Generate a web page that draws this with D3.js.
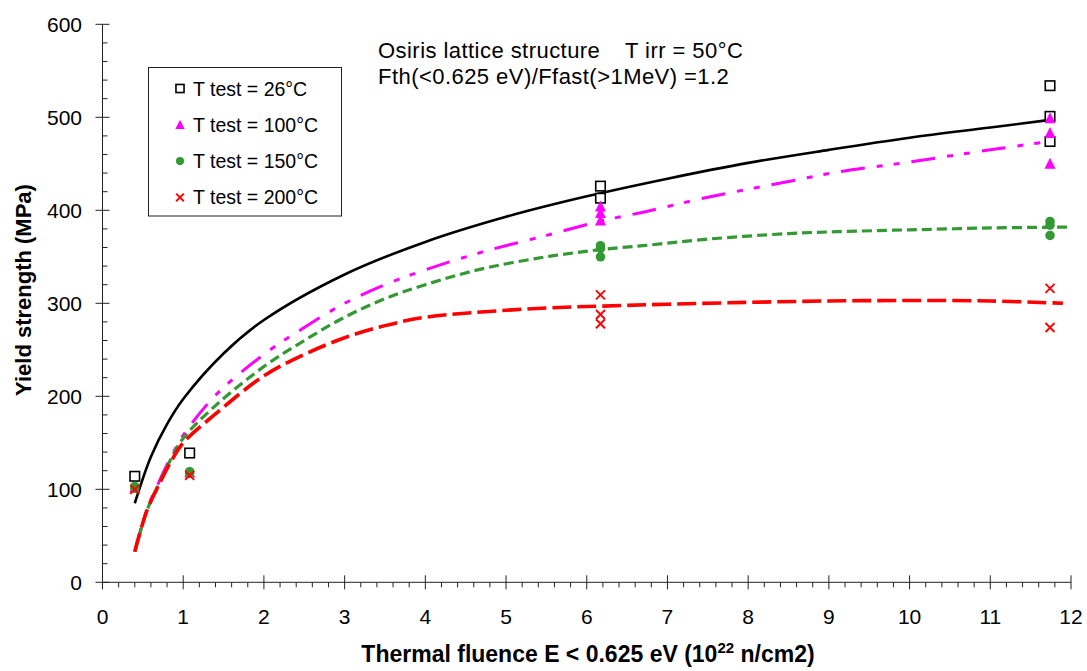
<!DOCTYPE html>
<html>
<head>
<meta charset="utf-8">
<script src="https://cdn.jsdelivr.net/npm/d3@7/dist/d3.min.js"></script>
<style>
  html, body { margin: 0; padding: 0; background: #fff; }
  svg { display: block; font-family: "Liberation Sans", Arial, sans-serif; }
</style>
</head>
<body>
<div class="chart"></div>
<script>
// Yield strength vs thermal fluence, Osiris lattice, 4 test temperatures.

// ---- measured points [fluence, MPa] ----
var pts26  = [[0.4, 114], [1.08, 139], [6.17, 426], [6.17, 413], [11.74, 534], [11.74, 501], [11.74, 474]]
var pts100 = [[0.4, 102], [1.08, 118], [6.17, 404], [6.17, 397], [6.17, 389], [11.74, 499], [11.74, 483], [11.74, 450]]
var pts150 = [[0.4, 103], [0.4, 101], [1.08, 119], [1.08, 117], [6.17, 362], [6.17, 359], [6.17, 350], [11.74, 388], [11.74, 384], [11.74, 373]]
var pts200 = [[0.4, 100], [1.08, 115], [6.17, 309], [6.17, 288], [6.17, 278], [11.74, 316], [11.74, 274]]

// ---- trend lines (x, y) ----
var fitX26  = [0.4, 0.6, 0.8, 1, 1.5, 2, 3, 4, 5, 6, 7, 8, 9, 10, 11, 11.72]
var fitY26  = [85, 135, 170, 197, 246, 282, 331, 366, 393, 415, 434, 451, 465, 478, 489, 497]
var fitX100 = [0.4, 0.55, 0.7, 0.85, 1, 1.4, 2, 2.5, 3, 3.5, 4, 4.7, 5.5, 6.2, 6.7, 7.5, 8.5, 9.1, 10, 11, 11.72]
var fitY100 = [33, 78, 108, 135, 158, 201, 245, 274, 300, 320, 336, 355, 373, 389, 398, 414, 431, 441, 452, 465, 474]
var fitX150 = [0.4, 0.55, 0.7, 0.85, 1, 1.4, 2, 2.5, 3, 3.5, 4, 4.7, 5.5, 6.2, 6.7, 7.5, 8.5, 9.1, 10, 11, 11.95]
var fitY150 = [33, 77, 106, 133, 155, 190, 232, 260, 285, 305, 320, 337, 350, 358, 362, 369, 375, 377, 379, 381, 382]
var fitX200 = [0.4, 0.55, 0.7, 0.85, 1, 1.4, 2, 2.5, 3, 3.5, 4, 4.6, 5.5, 6.2, 7, 8, 9, 10, 11, 11.9]
var fitY200 = [33, 77, 105, 130, 150, 181, 222, 245, 263, 276, 285, 290, 295, 297, 299, 301, 302.5, 303, 302.5, 300]

var legendLabels = ['T test = 26°C', 'T test = 100°C', 'T test = 150°C', 'T test = 200°C']
var xTicks = d3.range(0, 13)
var yTicks = d3.range(0, 700, 100)

var W = 1087, H = 671
var svg = d3.select('.chart').append('svg').attr('width', W).attr('height', H)

var x = d3.scaleLinear().domain([0, 12]).range([102.5, 1071])
var y = d3.scaleLinear().domain([0, 600]).range([582.3, 24.3])

// series styling: Excel-ish colours + dash patterns
var series = [
  {pts: pts26,  fx: fitX26,  fy: fitY26,  color: '#000000', width: 2.6, dash: null,              shape: 'square',   sz: 9.5},
  {pts: pts100, fx: fitX100, fy: fitY100, color: '#ff00ff', width: 3,   dash: '24,12,6,11,6,12', shape: 'triangle', sz: 11},
  {pts: pts150, fx: fitX150, fy: fitY150, color: '#339933', width: 3.2, dash: '10,5',            shape: 'circle',   sz: 9.5},
  {pts: pts200, fx: fitX200, fy: fitY200, color: '#ff0000', width: 3.6, dash: '19,6',            shape: 'cross',    sz: 9}
]

// ---- axes ----
var ax = svg.append('g').attr('stroke', '#222').attr('stroke-width', 1)
ax.append('line').attr('x1', x(0)).attr('x2', x(0)).attr('y1', y(600)).attr('y2', y(0))
ax.append('line').attr('x1', x(0)).attr('x2', x(12)).attr('y1', y(0)).attr('y2', y(0))

// y: major ticks cross the axis, minor ticks every 20 inside
ax.selectAll('.ymaj').data(yTicks).enter().append('line')
  .attr('x1', x(0) - 7).attr('x2', x(0) + 7).attr('y1', y).attr('y2', y)
ax.selectAll('.ymin').data(d3.range(20, 600, 20).filter(function(d){ return d % 100 })).enter().append('line')
  .attr('x1', x(0)).attr('x2', x(0) + 5).attr('y1', y).attr('y2', y)
// x: major ticks cross, minor every 0.2 below
ax.selectAll('.xmaj').data(xTicks).enter().append('line')
  .attr('x1', x).attr('x2', x).attr('y1', y(0) - 7).attr('y2', y(0) + 7)
ax.selectAll('.xmin').data(d3.range(0.2, 12, 0.2).filter(function(d){ return Math.abs(d - Math.round(d)) > 0.05 })).enter().append('line')
  .attr('x1', x).attr('x2', x).attr('y1', y(0)).attr('y2', y(0) + 5)

svg.selectAll('.ylab').data(yTicks).enter().append('text')
  .text(function(d){ return d })
  .attr('x', 82).attr('y', function(d){ return y(d) + 7.5 })
  .attr('text-anchor', 'end').attr('font-size', 21).attr('fill', '#000')
svg.selectAll('.xlab').data(xTicks).enter().append('text')
  .text(function(d){ return d })
  .attr('x', x).attr('y', 624)
  .attr('text-anchor', 'middle').attr('font-size', 21).attr('fill', '#000')

// axis titles
var xt = svg.append('text').attr('x', 588).attr('y', 662).attr('text-anchor', 'middle')
  .attr('font-size', 23).attr('font-weight', 'bold')
xt.append('tspan').text('Thermal fluence E < 0.625 eV (10')
xt.append('tspan').text('22').attr('font-size', 15).attr('dy', -9)
xt.append('tspan').text(' n/cm2)').attr('dy', 9)

svg.append('text').text('Yield strength (MPa)')
  .attr('transform', 'translate(31,290) rotate(-90)')
  .attr('text-anchor', 'middle').attr('font-size', 22).attr('font-weight', 'bold')

// ---- annotation: two lines, a hair of letter-spacing keeps the width ----
var noteSt = {size: 22, ls: 0.45}
svg.append('text').text('Osiris lattice structure').attr('x', 378).attr('y', 58)
  .attr('font-size', noteSt.size).attr('letter-spacing', noteSt.ls)
svg.append('text').text('T irr = 50°C').attr('x', 625).attr('y', 58)
  .attr('font-size', noteSt.size).attr('letter-spacing', noteSt.ls)
svg.append('text').text('Fth(<0.625 eV)/Ffast(>1MeV) =1.2').attr('x', 378).attr('y', 83.5)
  .attr('font-size', noteSt.size).attr('letter-spacing', noteSt.ls)

// ---- trend lines ----
var line = d3.line().curve(d3.curveCatmullRom.alpha(0.5))
series.forEach(function(s){
  var xy = s.fx.map(function(v, i){ return [x(v), y(s.fy[i])] })
  svg.append('path').attr('d', line(xy))
    .attr('fill', 'none').attr('stroke', s.color).attr('stroke-width', s.width)
    .attr('stroke-dasharray', s.dash)
})

// ---- markers ----
function marker(g, shape, color, cx, cy, sz){
  if (shape == 'square') g.append('rect')
    .attr('x', cx - sz / 2).attr('y', cy - sz / 2).attr('width', sz).attr('height', sz)
    .attr('fill', '#fff').attr('stroke', '#000').attr('stroke-width', 1.6)
  if (shape == 'triangle') g.append('path')
    .attr('d', 'M' + cx + ',' + (cy - sz * 0.55) + 'L' + (cx + sz * 0.5) + ',' + (cy + sz * 0.45) + 'L' + (cx - sz * 0.5) + ',' + (cy + sz * 0.45) + 'Z')
    .attr('fill', color)
  if (shape == 'circle') g.append('circle')
    .attr('cx', cx).attr('cy', cy).attr('r', sz * 0.5).attr('fill', color)
  if (shape == 'cross') g.append('path')
    .attr('d', 'M' + (cx - sz / 2) + ',' + (cy - sz / 2) + 'L' + (cx + sz / 2) + ',' + (cy + sz / 2) +
      'M' + (cx + sz / 2) + ',' + (cy - sz / 2) + 'L' + (cx - sz / 2) + ',' + (cy + sz / 2))
    .attr('stroke', color).attr('stroke-width', 1.9).attr('fill', 'none')
}
var mg = svg.append('g')
series.forEach(function(s){
  s.pts.forEach(function(p){ marker(mg, s.shape, s.color, x(p[0]), y(p[1]), s.sz) })
})

// ---- legend ----
var lg = svg.append('g')
lg.append('rect').attr('x', 148.5).attr('y', 67.5).attr('width', 193).attr('height', 148.5)
  .attr('fill', '#fff').attr('stroke', '#222').attr('stroke-width', 1)
series.forEach(function(s, i){
  var cy = 88.5 + i * 36.3
  marker(lg, s.shape, s.color, 180, cy, s.sz * 0.85)
  lg.append('text').text(legendLabels[i]).attr('x', 193).attr('y', cy + 7)
    .attr('font-size', 19.5).attr('fill', '#000')
})
</script>
</body>
</html>
